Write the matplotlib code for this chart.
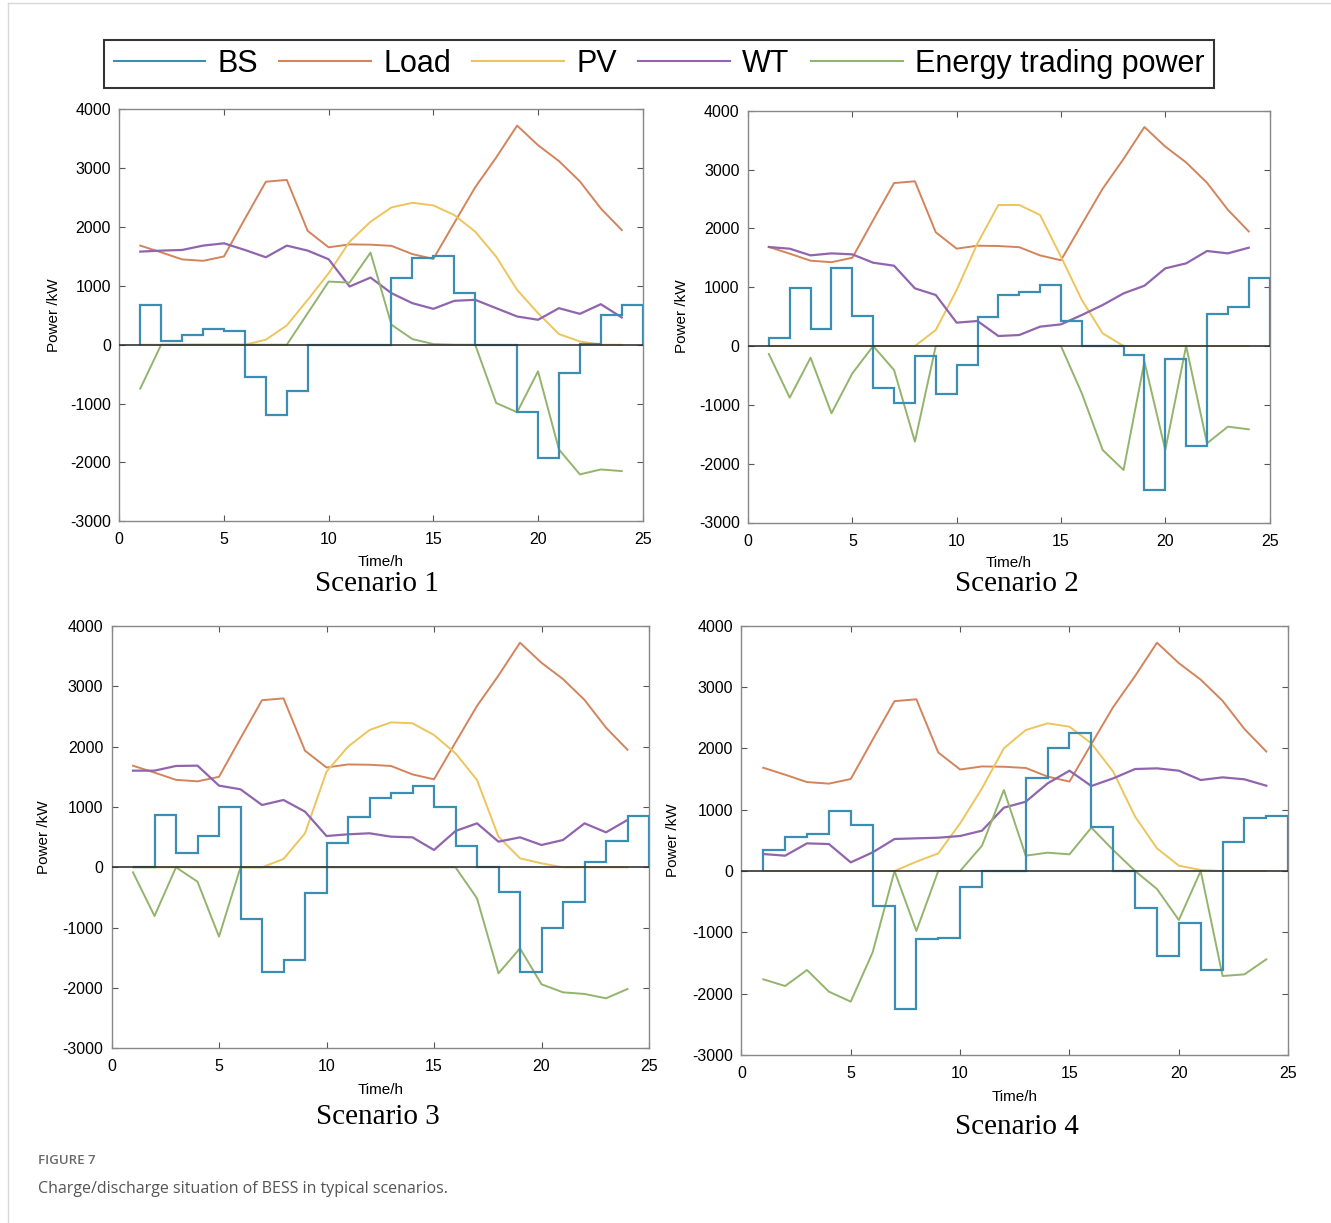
import numpy as np
import matplotlib
matplotlib.use("Agg")
import matplotlib.pyplot as plt
from matplotlib.lines import Line2D

plt.rcParams["axes.unicode_minus"] = False

# часы суток (линии) и границы ступенек для BS
hours = np.arange(1, 25)
bs_edges = np.arange(1, 26)

# нагрузка одинакова во всех сценариях
load = [1684, 1570, 1450, 1425, 1500, 2140, 2770, 2800, 1933, 1655, 1705, 1700,
        1680, 1540, 1458, 2070, 2675, 3180, 3723, 3390, 3120, 2775, 2315, 1948]

bs_s1 = [667, 56, 169, 266, 237, -548, -1186, -780, 0, 0, 0, 0,
         1141, 1480, 1514, 876, 0, 0, -1147, -1932, -480, 11, 508, 667]
bs_s2 = [136, 992, 295, 1331, 510, -720, -975, -164, -816, -323, 499, 867,
         924, 1037, 431, 0, 0, -153, -2448, -221, -1694, 538, 663, 1150]
bs_s3 = [0, 867, 232, 519, 1000, -862, -1740, -1536, -431, 398, 840, 1155,
         1227, 1348, 1000, 354, 0, -414, -1740, -1000, -580, 83, 442, 856]
bs_s4 = [342, 560, 603, 984, 750, -565, -2255, -1114, -1098, -255, 0, 0,
         1511, 2000, 2245, 723, 0, -609, -1386, -853, -1614, 478, 870, 891]

pv_s1 = [0, 0, 0, 0, 0, 0, 85, 328, 763, 1215, 1751, 2090,
         2333, 2412, 2367, 2203, 1921, 1497, 932, 537, 181, 56, 0, 0]
pv_s2 = [0, 0, 0, 0, 0, 0, 0, 0, 272, 952, 1745, 2397,
         2397, 2227, 1518, 782, 215, 0, 0, 0, 0, 0, 0, 0]
pv_s3 = [0, 0, 0, 0, 0, 0, 0, 138, 564, 1586, 2000, 2276,
         2403, 2387, 2193, 1890, 1448, 508, 149, 66, 0, 0, 0, 0]
pv_s4 = [0, 0, 0, 0, 0, 0, 0, 152, 288, 777, 1348, 2000,
         2299, 2408, 2353, 2082, 1620, 886, 370, 87, 16, 0, 0, 0]

wt_s1 = [1582, 1599, 1610, 1684, 1723, 1610, 1486, 1684, 1599, 1452, 989, 1141,
         876, 706, 610, 746, 763, 621, 480, 424, 621, 525, 689, 463]
wt_s2 = [1683, 1654, 1541, 1575, 1558, 1416, 1365, 980, 867, 397, 425, 170,
         187, 329, 368, 527, 697, 895, 1025, 1320, 1405, 1615, 1575, 1671]
wt_s3 = [1602, 1602, 1680, 1685, 1354, 1293, 1033, 1116, 923, 519, 547, 564,
         508, 497, 287, 602, 729, 425, 497, 370, 453, 729, 580, 785]
wt_s4 = [277, 250, 451, 440, 141, 304, 522, 533, 543, 571, 658, 1033,
         1130, 1429, 1636, 1386, 1511, 1663, 1674, 1636, 1484, 1527, 1495, 1391]

et_s1 = [-746, 0, 0, 0, 0, 0, 0, 0, 537, 1073, 1056, 1565,
         339, 96, 11, 0, 0, -989, -1147, -452, -1780, -2203, -2119, -2147]
et_s2 = [-136, -878, -198, -1144, -465, 0, -408, -1626, 0, 0, 0, 0,
         0, 0, 0, -805, -1768, -2108, -266, -1768, 0, -1654, -1371, -1416]
et_s3 = [-83, -807, 0, -238, -1149, 0, 0, 0, 0, 0, 0, 0,
         0, 0, 0, 0, -514, -1757, -1343, -1939, -2072, -2099, -2171, -2017]
et_s4 = [-1766, -1875, -1614, -1967, -2130, -1326, 0, -978, 0, 0, 413, 1321,
         250, 299, 272, 707, 342, 0, -293, -799, 0, -1712, -1685, -1440]

scenario_names = ["Scenario 1", "Scenario 2", "Scenario 3", "Scenario 4"]
series_names = ["BS", "Load", "PV", "WT", "Energy trading power"]

colors = {"BS": "#3a8db3", "Load": "#d3845c", "PV": "#ecc55c",
          "WT": "#9165ad", "ET": "#93b46c"}

W, H = 1331, 1223
fig = plt.figure(figsize=(W / 100, H / 100), dpi=100)

# положения осей в пикселях: left, right, top, bottom
boxes = [(119.3, 642.7, 109.3, 521.3),
         (748.0, 1269.6, 110.7, 522.5),
         (111.5, 649.0, 626.0, 1048.3),
         (741.4, 1288.2, 625.7, 1055.0)]
title_pos = [(377, 584), (1017, 584), (378, 1117), (1017, 1127)]
ylabel_x = [-0.111, -0.113, -0.113, -0.112]

data = [(bs_s1, pv_s1, wt_s1, et_s1), (bs_s2, pv_s2, wt_s2, et_s2),
        (bs_s3, pv_s3, wt_s3, et_s3), (bs_s4, pv_s4, wt_s4, et_s4)]

sans = ["Liberation Sans", "DejaVu Sans"]

for i, (l, r, t, b) in enumerate(boxes):
    ax = fig.add_axes([l / W, 1 - b / H, (r - l) / W, (b - t) / H])
    bs, pv, wt, et = data[i]
    ax.stairs(bs, bs_edges, baseline=0, color=colors["BS"], lw=1.6, zorder=3)
    ax.plot(hours, load, color=colors["Load"], lw=1.4)
    ax.plot(hours, pv, color=colors["PV"], lw=1.4)
    ax.plot(hours, wt, color=colors["WT"], lw=1.6)
    ax.plot(hours, et, color=colors["ET"], lw=1.4)
    ax.axhline(0, color="#333333", lw=1.2, zorder=4)

    ax.set_xlim(0, 25)
    ax.set_ylim(-3000, 4000)
    ax.set_xticks(range(0, 26, 5))
    ax.set_yticks(range(-3000, 4001, 1000))
    ax.tick_params(direction="in", top=True, right=True, length=4,
                   width=0.8, color="#555555", labelsize=11.5, pad=6)
    ax.tick_params(axis="x", pad=8)
    for lab in ax.get_xticklabels() + ax.get_yticklabels():
        lab.set_fontfamily(sans)
    for sp in ax.spines.values():
        sp.set_color("#888888")
        sp.set_linewidth(1.0)

    ax.set_xlabel("Time/h", fontsize=11, family=sans)
    ax.set_ylabel("Power /kW", fontsize=11, family=sans)
    ax.xaxis.set_label_coords(0.5, -0.082)
    ax.yaxis.set_label_coords(ylabel_x[i], 0.5)

    tx, ty = title_pos[i]
    fig.text(tx / W, 1 - ty / H, scenario_names[i], ha="center", va="center",
             fontsize=21, family=["Liberation Serif", "DejaVu Serif"])

# общая легенда сверху
handles = [Line2D([], [], color=colors[k], lw=1.5) for k in ["BS", "Load", "PV", "WT", "ET"]]
leg = fig.legend(handles, series_names, loc="center", ncol=5,
                 bbox_to_anchor=(659 / W, 1 - 64 / H), frameon=True, fancybox=False,
                 prop={"family": ["Liberation Sans Narrow", "Liberation Sans", "DejaVu Sans"], "size": 22},
                 handlelength=3.0, handletextpad=0.4, columnspacing=0.7,
                 borderpad=0.3, borderaxespad=0)
leg.get_frame().set_edgecolor("black")
leg.get_frame().set_linewidth(1.5)

# подпись рисунка
fig.text(38 / W, 1 - 1161 / H, "FIGURE 7", fontsize=9.5, color="#6a6a6a",
         family=["Open Sans", "DejaVu Sans"], va="center", fontweight="semibold")
fig.text(38 / W, 1 - 1189 / H, "Charge/discharge situation of BESS in typical scenarios.",
         fontsize=11.5, color="#555555", family=["Open Sans", "DejaVu Sans"], va="center")

# рамка страницы
fig.add_artist(Line2D([8 / W, 8 / W], [0, 1 - 3 / H], color="#d8d8d8", lw=1))
fig.add_artist(Line2D([8 / W, 1], [1 - 3 / H, 1 - 3 / H], color="#d8d8d8", lw=1))

fig.savefig("out.png", dpi=100)
